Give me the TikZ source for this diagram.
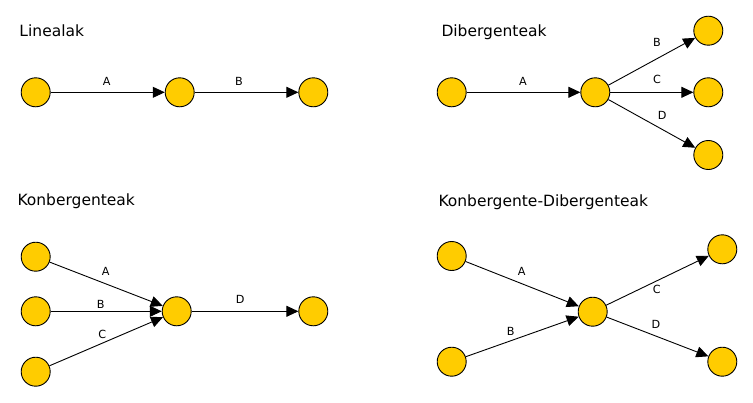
\documentclass[tikz,border=0pt]{standalone}
\usepackage{fontspec}
\setmainfont{DejaVu Sans}
\usetikzlibrary{arrows.meta}
\definecolor{nodefill}{HTML}{FFCC00}
\begin{document}
\begin{tikzpicture}[x=1pt,y=-1pt,
  ev/.style={circle,draw=black,line width=0.9pt,fill=nodefill,minimum size=29pt,inner sep=0pt},
  act/.style={-{Triangle[length=12pt,width=11pt]},line width=0.9pt,black},
  ttl/.style={anchor=base west,inner sep=0pt,font=\fontsize{15.5}{18}\selectfont},
  lbl/.style={inner sep=0pt,font=\fontsize{11.2}{13}\selectfont}]
\useasboundingbox (0,0) rectangle (753,402);
% Linealak
\node[ttl] (t1) at (19.3,36) {Linealak};
\node[ev] (l1) at (35.7,92.3) {};
\node[ev] (l2) at (179.7,92.3) {};
\node[ev] (l3) at (313.3,92.3) {};
\draw[act] (l1) -- (l2);
\draw[act] (l2) -- (l3);
\node[lbl] (la) at (106.7,81) {A};
\node[lbl] (lb) at (239,81) {B};
% Dibergenteak
\node[ttl] (t2) at (441.3,36) {Dibergenteak};
\node[ev] (d1) at (451.7,92.3) {};
\node[ev] (d2) at (595.3,92.3) {};
\node[ev] (d3) at (708.3,30.7) {};
\node[ev] (d4) at (708.3,92.3) {};
\node[ev] (d5) at (708.3,155) {};
\draw[act] (d1) -- (d2);
\draw[act] (d2) -- (d3);
\draw[act] (d2) -- (d4);
\draw[act] (d2) -- (d5);
\node[lbl] (da) at (523,81) {A};
\node[lbl] (db) at (657,42.7) {B};
\node[lbl] (dc) at (657,79) {C};
\node[lbl] (dd) at (662.3,115) {D};
% Konbergenteak
\node[ttl] (t3) at (17.3,205.7) {Konbergenteak};
\node[ev] (k1) at (35.7,256.7) {};
\node[ev] (k2) at (35.7,311.3) {};
\node[ev] (k3) at (35.7,371.7) {};
\node[ev] (k4) at (176.7,311.3) {};
\node[ev] (k5) at (313.3,311.3) {};
\draw[act] (k1) -- (k4);
\draw[act] (k2) -- (k4);
\draw[act] (k3) -- (k4);
\draw[act] (k4) -- (k5);
\node[lbl] (ka) at (105.7,271.7) {A};
\node[lbl] (kb) at (100.7,304) {B};
\node[lbl] (kc) at (102.3,334) {C};
\node[lbl] (kd) at (240.3,299.3) {D};
% Konbergente-Dibergenteak
\node[ttl] (t4) at (438.3,206) {Konbergente-Dibergenteak};
\node[ev] (c1) at (451.7,256) {};
\node[ev] (c2) at (451.7,361.7) {};
\node[ev] (c3) at (592.7,311.7) {};
\node[ev] (c4) at (722.3,249.3) {};
\node[ev] (c5) at (722.3,361.7) {};
\draw[act] (c1) -- (c3);
\draw[act] (c2) -- (c3);
\draw[act] (c3) -- (c4);
\draw[act] (c3) -- (c5);
\node[lbl] (ca) at (521.7,271) {A};
\node[lbl] (cb) at (510.7,331.7) {B};
\node[lbl] (cc) at (656.7,289.7) {C};
\node[lbl] (cd) at (656,324) {D};
\end{tikzpicture}
\end{document}
